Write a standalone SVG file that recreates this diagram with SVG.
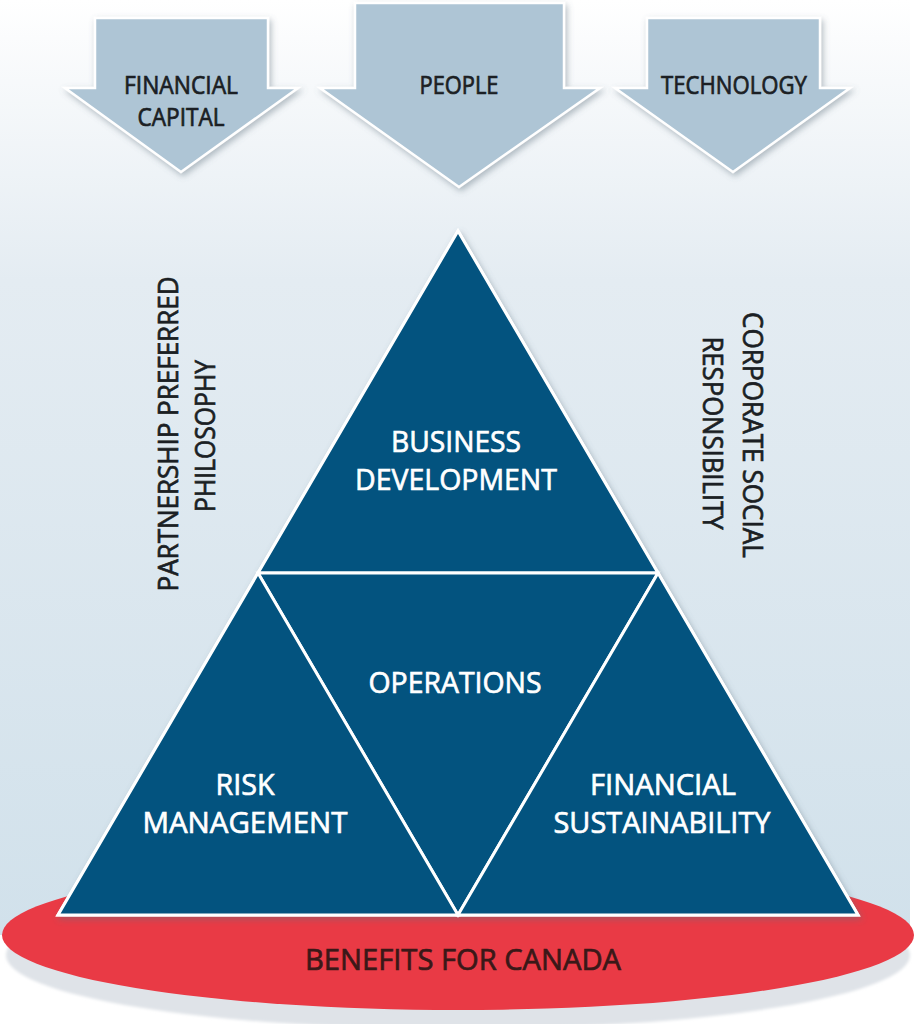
<svg xmlns="http://www.w3.org/2000/svg" width="914" height="1024" viewBox="0 0 914 1024">
  <style>
    .lbl { font-family: "Open Sans", "Noto Sans", "Liberation Sans", sans-serif; text-anchor: middle; stroke-width: 0.7; }
    .dark { fill: #1b1f24; stroke: #1b1f24; }
    .light { fill: #ffffff; stroke: #ffffff; }
    .arrow { fill: #aec5d5; stroke: #ffffff; stroke-width: 2.5; stroke-linejoin: miter; }
    .piece { fill: #03537f; stroke: #ffffff; stroke-width: 3; stroke-linejoin: miter; }
  </style>
  <defs>
    <linearGradient id="bg" x1="0" y1="0" x2="0" y2="935" gradientUnits="userSpaceOnUse">
      <stop offset="0" stop-color="#ffffff"/>
      <stop offset="0.04" stop-color="#fbfcfd"/>
      <stop offset="0.3" stop-color="#e4ecf2"/>
      <stop offset="1" stop-color="#d1e1eb"/>
    </linearGradient>
    <filter id="shadow" x="-10%" y="-10%" width="130%" height="130%">
      <feDropShadow dx="2" dy="3" stdDeviation="3" flood-color="#5f717e" flood-opacity="0.45"/>
    </filter>
    <filter id="soft" x="-5%" y="-20%" width="110%" height="140%">
      <feGaussianBlur stdDeviation="1.5"/>
    </filter>
  </defs>

  <!-- backdrop panel -->
  <rect x="0" y="0" width="910" height="935" fill="url(#bg)"/>

  <!-- base disc -->
  <g id="benefits">
    <ellipse cx="458" cy="955" rx="452" ry="74" fill="#dfe3e8" filter="url(#soft)"/>
    <ellipse cx="458" cy="935" rx="456" ry="75" fill="#e93a45"/>
    <text class="lbl" x="463" y="970" font-size="30" fill="#3a1818" stroke="#3a1818" textLength="316" lengthAdjust="spacingAndGlyphs">BENEFITS FOR CANADA</text>
  </g>

  <!-- input arrows -->
  <g id="financial-capital">
    <polygon class="arrow" filter="url(#shadow)" points="95,18 268,18 268,88 298,88 181,172 65,88 95,88"/>
    <text class="lbl dark" x="181" y="94" font-size="25" textLength="114" lengthAdjust="spacingAndGlyphs">FINANCIAL</text>
    <text class="lbl dark" x="181" y="126" font-size="25" textLength="87" lengthAdjust="spacingAndGlyphs">CAPITAL</text>
  </g>
  <g id="people">
    <polygon class="arrow" filter="url(#shadow)" points="355,3 564,3 564,88 600,88 459,187 320,88 355,88"/>
    <text class="lbl dark" x="459" y="94" font-size="25" textLength="79" lengthAdjust="spacingAndGlyphs">PEOPLE</text>
  </g>
  <g id="technology">
    <polygon class="arrow" filter="url(#shadow)" points="647,18 820,18 820,88 850,88 733,172 615,88 647,88"/>
    <text class="lbl dark" x="734" y="94" font-size="25" textLength="146" lengthAdjust="spacingAndGlyphs">TECHNOLOGY</text>
  </g>

  <!-- side principles -->
  <g id="partnership-preferred">
    <text class="lbl dark" transform="translate(178,434) rotate(-90)" font-size="27" textLength="315" lengthAdjust="spacingAndGlyphs">PARTNERSHIP PREFERRED</text>
    <text class="lbl dark" transform="translate(215,436) rotate(-90)" font-size="27" textLength="152" lengthAdjust="spacingAndGlyphs">PHILOSOPHY</text>
  </g>
  <g id="corporate-social">
    <text class="lbl dark" transform="translate(743,435) rotate(90)" font-size="27" textLength="246" lengthAdjust="spacingAndGlyphs">CORPORATE SOCIAL</text>
    <text class="lbl dark" transform="translate(703,433) rotate(90)" font-size="27" textLength="193" lengthAdjust="spacingAndGlyphs">RESPONSIBILITY</text>
  </g>

  <!-- pyramid outline with shadow -->
  <polygon class="piece" filter="url(#shadow)" points="458,231 858,915 58,915"/>

  <g id="business-development">
    <polygon class="piece" points="458,231 658,573 258,573"/>
    <text class="lbl light" x="456" y="452" font-size="30" textLength="130" lengthAdjust="spacingAndGlyphs">BUSINESS</text>
    <text class="lbl light" x="456" y="490" font-size="30" textLength="202" lengthAdjust="spacingAndGlyphs">DEVELOPMENT</text>
  </g>
  <g id="operations">
    <polygon class="piece" points="258,573 658,573 458,915"/>
    <text class="lbl light" x="455" y="693" font-size="30" textLength="173" lengthAdjust="spacingAndGlyphs">OPERATIONS</text>
  </g>
  <g id="risk-management">
    <polygon class="piece" points="258,573 458,915 58,915"/>
    <text class="lbl light" x="245" y="795" font-size="30" textLength="59" lengthAdjust="spacingAndGlyphs">RISK</text>
    <text class="lbl light" x="245" y="833" font-size="30" textLength="205" lengthAdjust="spacingAndGlyphs">MANAGEMENT</text>
  </g>
  <g id="financial-sustainability">
    <polygon class="piece" points="658,573 858,915 458,915"/>
    <text class="lbl light" x="663" y="795" font-size="30" textLength="146" lengthAdjust="spacingAndGlyphs">FINANCIAL</text>
    <text class="lbl light" x="662" y="833" font-size="30" textLength="217" lengthAdjust="spacingAndGlyphs">SUSTAINABILITY</text>
  </g>

  <!-- no connectors: the arrows above are shapes in their own right -->
  <g id="connectors"/>
</svg>
